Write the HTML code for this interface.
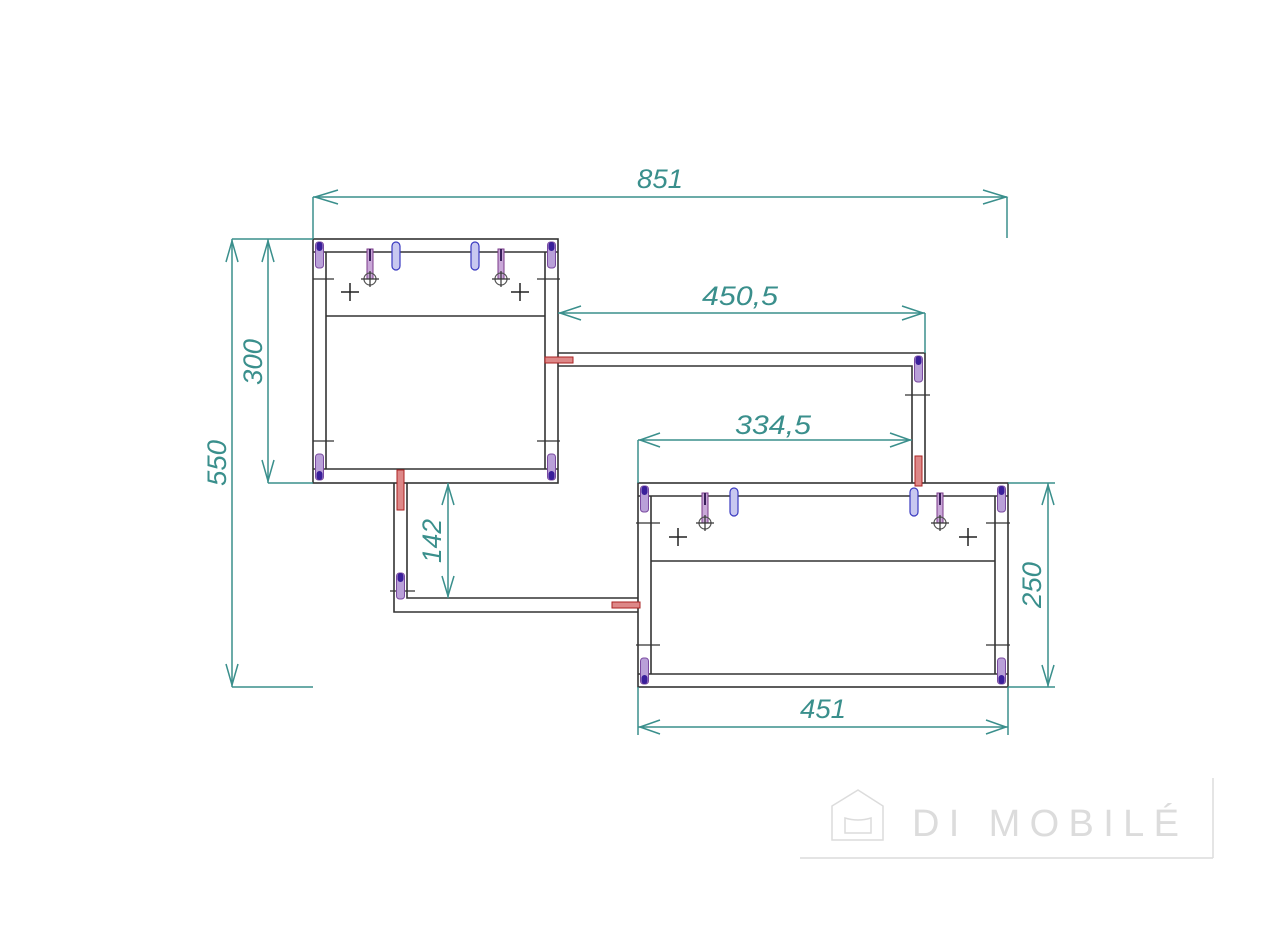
<!DOCTYPE html>
<html><head><meta charset="utf-8"><style>
html,body{margin:0;padding:0;background:#fff;}
svg{display:block}
.t{font-family:"Liberation Sans",sans-serif;font-style:italic;font-size:27px;fill:#3a8f8c;}
</style></head><body>
<svg width="1280" height="926" viewBox="0 0 1280 926" xmlns="http://www.w3.org/2000/svg">
<defs>
<g id="pin">
  <rect x="-4" y="0" width="8" height="26" rx="3" fill="#b9a0d8" stroke="#7a4aa0" stroke-width="1"/>
  <rect x="-3" y="0" width="6" height="9" rx="3" fill="#3a1f9a"/>
</g>
<g id="bpin">
  <rect x="-4" y="0" width="8" height="28" rx="4" fill="#c8c8f0" stroke="#3a3ac0" stroke-width="1.2"/>
</g>
<g id="ppin">
  <rect x="-3" y="0" width="6" height="30" fill="#c9a8d8" stroke="#7a3a8a" stroke-width="1"/>
  <line x1="0" y1="0" x2="0" y2="12" stroke="#3a1f5a" stroke-width="2"/>
  <circle cx="0" cy="30" r="6" fill="none" stroke="#555" stroke-width="1.2"/>
  <line x1="-9" y1="30" x2="9" y2="30" stroke="#333" stroke-width="1.2"/>
  <line x1="0" y1="22" x2="0" y2="38" stroke="#333" stroke-width="1.2"/>
</g>
<g id="cross">
  <line x1="-9" y1="0" x2="9" y2="0" stroke="#222" stroke-width="1.5"/>
  <line x1="0" y1="-9" x2="0" y2="9" stroke="#222" stroke-width="1.5"/>
</g>
</defs>

<g fill="none" stroke="#333" stroke-width="1.6">
  <!-- box 1 -->
  <rect x="313" y="239" width="245" height="244"/>
  <line x1="313" y1="252" x2="558" y2="252"/>
  <line x1="313" y1="469" x2="558" y2="469"/>
  <line x1="326" y1="252" x2="326" y2="469"/>
  <line x1="545" y1="252" x2="545" y2="469"/>
  <line x1="326" y1="316" x2="545" y2="316"/>
  <!-- upper connector -->
  <polyline points="558,353 925,353 925,483"/>
  <polyline points="558,366 912,366 912,483"/>
  <!-- lower connector -->
  <polyline points="394,483 394,612 638,612"/>
  <polyline points="407,483 407,598 638,598"/>
  <!-- box 2 -->
  <rect x="638" y="483" width="370" height="204"/>
  <line x1="638" y1="496" x2="1008" y2="496"/>
  <line x1="638" y1="674" x2="1008" y2="674"/>
  <line x1="651" y1="496" x2="651" y2="674"/>
  <line x1="995" y1="496" x2="995" y2="674"/>
  <line x1="651" y1="561" x2="995" y2="561"/>
</g>

<!-- hardware box 1 -->
<use href="#pin" x="319.5" y="242"/>
<use href="#pin" x="551.5" y="242"/>
<g transform="translate(319.5,480) scale(1,-1)"><use href="#pin"/></g>
<g transform="translate(551.5,480) scale(1,-1)"><use href="#pin"/></g>
<use href="#ppin" x="370" y="249"/>
<use href="#ppin" x="501" y="249"/>
<use href="#bpin" x="396" y="242"/>
<use href="#bpin" x="475" y="242"/>
<use href="#cross" x="350" y="292"/>
<use href="#cross" x="520" y="292"/>
<g stroke="#333" stroke-width="1.2"><line x1="313" y1="279" x2="334" y2="279"/><line x1="537" y1="279" x2="560" y2="279"/><line x1="313" y1="441" x2="334" y2="441"/><line x1="537" y1="441" x2="560" y2="441"/></g>
<!-- hardware box 2 -->
<use href="#pin" x="644.5" y="486"/>
<use href="#pin" x="1001.5" y="486"/>
<g transform="translate(644.5,684) scale(1,-1)"><use href="#pin"/></g>
<g transform="translate(1001.5,684) scale(1,-1)"><use href="#pin"/></g>
<use href="#ppin" x="705" y="493"/>
<use href="#ppin" x="940" y="493"/>
<use href="#bpin" x="734" y="488"/>
<use href="#bpin" x="914" y="488"/>
<use href="#cross" x="678" y="537"/>
<use href="#cross" x="968" y="537"/>
<g stroke="#333" stroke-width="1.2"><line x1="636" y1="523" x2="660" y2="523"/><line x1="986" y1="523" x2="1010" y2="523"/><line x1="636" y1="645" x2="660" y2="645"/><line x1="986" y1="645" x2="1010" y2="645"/></g>
<!-- connector pins -->
<use href="#pin" x="918.5" y="356"/>
<g stroke="#333" stroke-width="1.2"><line x1="905" y1="395" x2="930" y2="395"/><line x1="390" y1="591" x2="415" y2="591"/></g>
<use href="#pin" x="400.5" y="573"/>
<rect x="915" y="456" width="7" height="30" fill="#d88" stroke="#a22" stroke-width="1"/>
<rect x="397" y="470" width="7" height="40" fill="#d88" stroke="#a22" stroke-width="1"/>
<rect x="545" y="357" width="28" height="6" fill="#d88" stroke="#a22" stroke-width="1"/>
<rect x="612" y="602" width="28" height="6" fill="#d88" stroke="#a22" stroke-width="1"/>

<!-- dimensions -->
<g fill="none" stroke="#3a8f8c" stroke-width="1.5">
  <!-- 851 -->
  <line x1="313" y1="197" x2="1007" y2="197"/>
  <line x1="313" y1="197" x2="313" y2="239"/>
  <line x1="1007" y1="197" x2="1007" y2="238"/>
  <polyline points="338,190 315,197 338,204"/><polyline points="983,190 1006,197 983,204"/>
  <!-- 450,5 -->
  <line x1="558" y1="313" x2="925" y2="313"/>
  <line x1="925" y1="313" x2="925" y2="353"/>
  <polyline points="581,306 560,313 581,320"/><polyline points="902,306 923,313 902,320"/>
  <!-- 334,5 -->
  <line x1="638" y1="440" x2="912" y2="440"/>
  <line x1="638" y1="440" x2="638" y2="483"/>
  <polyline points="660,433 640,440 660,447"/><polyline points="890,433 910,440 890,447"/>
  <!-- 300 -->
  <line x1="268" y1="239" x2="268" y2="483"/>
  <line x1="232" y1="239" x2="313" y2="239"/>
  <line x1="268" y1="483" x2="313" y2="483"/>
  <polyline points="262,262 268,241 274,262"/><polyline points="262,460 268,481 274,460"/>
  <!-- 550 -->
  <line x1="232" y1="239" x2="232" y2="687"/>
  <line x1="232" y1="687" x2="313" y2="687"/>
  <polyline points="226,262 232,241 238,262"/><polyline points="226,664 232,685 238,664"/>
  <!-- 142 -->
  <line x1="448" y1="483" x2="448" y2="598"/>
  <polyline points="442,505 448,485 454,505"/><polyline points="442,576 448,596 454,576"/>
  <!-- 250 -->
  <line x1="1048" y1="483" x2="1048" y2="687"/>
  <line x1="1008" y1="483" x2="1055" y2="483"/>
  <line x1="1008" y1="687" x2="1055" y2="687"/>
  <polyline points="1042,505 1048,485 1054,505"/><polyline points="1042,665 1048,685 1054,665"/>
  <!-- 451 -->
  <line x1="638" y1="727" x2="1008" y2="727"/>
  <line x1="638" y1="687" x2="638" y2="735"/>
  <line x1="1008" y1="687" x2="1008" y2="735"/>
  <polyline points="660,720 640,727 660,734"/><polyline points="986,720 1006,727 986,734"/>
</g>
<g class="t">
  <text x="660" y="188" text-anchor="middle" textLength="46" lengthAdjust="spacingAndGlyphs">851</text>
  <text x="740" y="305" text-anchor="middle" textLength="76" lengthAdjust="spacingAndGlyphs">450,5</text>
  <text x="773" y="434" text-anchor="middle" textLength="76" lengthAdjust="spacingAndGlyphs">334,5</text>
  <text x="823" y="718" text-anchor="middle" textLength="46" lengthAdjust="spacingAndGlyphs">451</text>
  <text transform="translate(262,362) rotate(-90)" text-anchor="middle" textLength="46" lengthAdjust="spacingAndGlyphs">300</text>
  <text transform="translate(226,463) rotate(-90)" text-anchor="middle" textLength="46" lengthAdjust="spacingAndGlyphs">550</text>
  <text transform="translate(441,541) rotate(-90)" text-anchor="middle" textLength="44" lengthAdjust="spacingAndGlyphs">142</text>
  <text transform="translate(1041,585) rotate(-90)" text-anchor="middle" textLength="46" lengthAdjust="spacingAndGlyphs">250</text>
</g>

<!-- logo -->
<g fill="none" stroke="#dcdcdc" stroke-width="1.5">
  <line x1="1213" y1="778" x2="1213" y2="858"/>
  <line x1="800" y1="858" x2="1213" y2="858"/>
  <path d="M832,806 L858,790 L883,806 L883,840 L832,840 Z"/>
  <path d="M845,818 Q858,822 871,818 L871,833 L845,833 Z"/>
</g>
<text x="912" y="836" font-family="Liberation Sans,sans-serif" font-size="38" fill="#dcdcdc" letter-spacing="9" textLength="276" lengthAdjust="spacing">DI MOBILÉ</text>
</svg>
</body></html>
